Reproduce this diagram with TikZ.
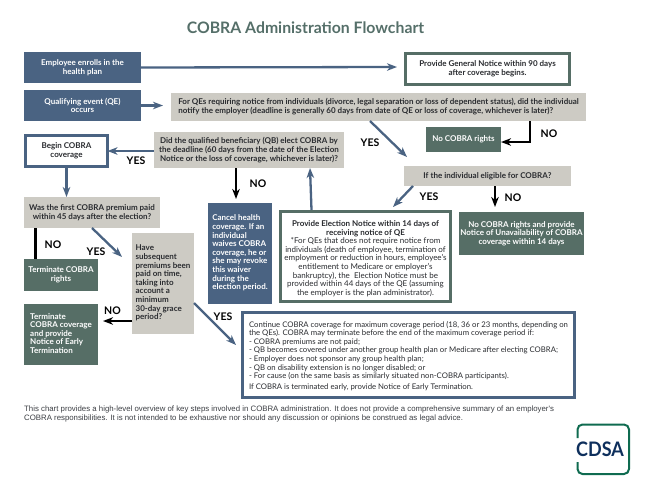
\documentclass[tikz,border=0pt]{standalone}
\usepackage{fontspec}
\usepackage{graphicx}
\setmainfont{Lato}
\newfontfamily\footfont{Liberation Sans}
\usetikzlibrary{arrows.meta,calc}
\definecolor{bluebox}{HTML}{4A6382}
\definecolor{greenbox}{HTML}{566E66}
\definecolor{greybox}{HTML}{CDCBC4}
\definecolor{titlecol}{HTML}{556F69}
\definecolor{inkcol}{HTML}{2A2C30}
\definecolor{thincol}{HTML}{3A3D42}
\definecolor{logogreen}{HTML}{0F6B50}
\definecolor{logonavy}{HTML}{0E2F5C}
\tikzset{
 sz/.style 2 args={minimum width=#1pt,minimum height=#2pt},
 base/.style={inner sep=0pt,outer sep=0pt,align=center,font=\bfseries\fontsize{8}{8.6}\selectfont},
 bluefill/.style={base,fill=bluebox,text=white},
 greenfill/.style={base,fill=greenbox,text=white},
 greyfill/.style={base,fill=greybox,text=inkcol},
 blueframe/.style={base,draw=bluebox,line width=3pt,fill=white,text=inkcol},
 greenframe/.style={base,draw=greenbox,line width=3pt,fill=white,text=inkcol},
 arrblue/.style={draw=bluebox,line width=2.3pt,-{Stealth[length=10pt,width=7.5pt,inset=3pt]}},
 arrblack/.style={draw=black,line width=1.8pt,-{Stealth[length=10pt,width=7.5pt,inset=3pt]}},
 plainblack/.style={draw=black,line width=2.2pt},
 lab/.style={inner sep=0pt,text=black,font=\fontsize{10.5}{11}\selectfont\bfseries},
}
\begin{document}
\begin{tikzpicture}[x=1pt,y=-1pt]
\useasboundingbox (0,0) rectangle (650,496);
\node[inner sep=0pt,text=titlecol,font=\bfseries\fontsize{15.8}{18}\selectfont] (title) at (305.5,27.5) {COBRA Administration Flowchart};

\node[bluefill,sz={117}{31}] (emp) at (82.5,67.5) {Employee enrolls in the\\health plan};
\node[bluefill,sz={117}{31}] (qe) at (82.5,105.5) {Qualifying event (QE)\\occurs};
\node[greenframe,sz={164}{31}] (gen) at (487.5,69) {Provide General Notice within 90 days\\after coverage begins.};
\node[greyfill,sz={415}{28}] (qq) at (378.5,107) {\begin{tabular}{@{}l@{}}For QEs requiring notice from individuals (divorce, legal separation or loss of dependent status), did the individual\\notify the employer (deadline is generally 60 days from date of QE or loss of coverage, whichever is later)?\end{tabular}};
\node[greenfill,sz={75}{25}] (nor) at (463.5,139.5) {No COBRA rights};
\node[greyfill,sz={167}{20.5}] (elig) at (487.5,175.75) {If the individual eligible for COBRA?};
\node[greyfill,sz={190}{36}] (qb) at (249,150) {Did the qualified beneficiary (QB) elect COBRA by\\the deadline (60 days from the date of the Election\\Notice or the loss of coverage, whichever is later)?};
\node[blueframe,sz={82}{31}] (begin) at (66.5,151) {Begin COBRA\\coverage};
\node[greyfill,sz={136}{31}] (first) at (92,212.5) {Was the first COBRA premium paid\\within 45 days after the election?};
\node[greenfill,sz={74}{32}] (termr) at (61,275) {Terminate COBRA\\rights};
\node[greyfill,sz={62}{101}] (subs) at (163,283.5) {\begin{tabular}{@{}l@{}}Have\\subsequent\\premiums been\\paid on time,\\taking into\\account a\\minimum\\30-day grace\\period?\end{tabular}};
\node[greenfill,sz={74}{61}] (termc) at (61,334.5) {\begin{tabular}{@{}l@{}}Terminate\\COBRA coverage\\and provide\\Notice of Early\\Termination\end{tabular}};
\node[bluefill,sz={64}{101}] (cancel) at (240,253.5) {\begin{tabular}{@{}l@{}}Cancel health\\coverage. If an\\individual\\waives COBRA\\coverage, he or\\she may revoke\\this waiver\\during the\\election period.\end{tabular}};
\node[greenframe,sz={170}{90}] (elec) at (365.5,256.5) {\rule{0pt}{10pt}Provide Election Notice within 14 days of\\receiving notice of QE\\[0pt]{\mdseries *For QEs that does not require notice from}\\{\mdseries individuals (death of employee, termination of}\\{\mdseries employment or reduction in hours, employee's}\\{\mdseries entitlement to Medicare or employer's}\\{\mdseries bankruptcy), the\ \ Election Notice must be}\\{\mdseries provided within 44 days of the QE (assuming}\\{\mdseries the employer is the plan administrator).}};
\node[greenfill,sz={125}{43}] (noun) at (521.5,233.5) {No COBRA rights and provide\\Notice of Unavailability of COBRA\\coverage within 14 days};
\node[blueframe,sz={332}{85},font=\bfseries\fontsize{7.75}{8.6}\selectfont] (cont) at (408.5,355) {\begin{tabular}{@{}l@{}}\mdseries\rule{0pt}{9.5pt}Continue COBRA coverage for maximum coverage period (18, 36 or 23 months, depending on\\\mdseries the QEs). COBRA may terminate before the end of the maximum coverage period if:\\\mdseries - COBRA premiums are not paid;\\\mdseries - QB becomes covered under another group health plan or Medicare after electing COBRA;\\\mdseries - Employer does not sponsor any group health plan;\\\mdseries - QB on disability extension is no longer disabled; or\\\mdseries - For cause (on the same basis as similarly situated non-COBRA participants).\\[2.6pt]\mdseries If COBRA is terminated early, provide Notice of Early Termination.\end{tabular}};

% free ends of connectors
\coordinate (e1) at (397,67);
\coordinate (e2) at (163,105.5);
\coordinate (e3) at (407,157);
\coordinate (e4) at (393,207);
\coordinate (e5) at (495,207);
\coordinate (e6) at (236,199);
\coordinate (e7) at (122,257);
\coordinate (e8) at (103,321);
\coordinate (e9) at (236,345);
\coordinate (bend) at (530,142);
\coordinate (up) at (310,0);
\coordinate (lft) at (0,151);

\draw[arrblue] (emp.east) -- (e1);
\draw[arrblue] (qe.east) -- (e2);
\draw[arrblue] ($(qq.south west)+(199,0)$) -- (e3);
\draw[arrblack] ($(qq.south west)+(359,0)$) -- (bend) -- (nor.east |- bend);
\draw[arrblue] ($(elig.south west)+(9,0)$) -- (e4);
\draw[arrblack] ($(elig.south west)+(91,0)$) -- (e5);
\draw[arrblue] ($(elec.north west)+(31,-1.5)$) -- (up |- qb.south);
\draw[arrblue] (qb.west |- lft) -- (begin.east |- lft);
\draw[arrblack] ($(qb.south west)+(82,0)$) -- (e6);
\draw[arrblue] (begin.south) -- (begin.south |- first.north);
\draw[plainblack] ($(first.south west)+(11.5,0)$) -- ($(termr.north west)+(11.5,0)$);
\draw[arrblue] ($(first.south west)+(68,0)$) -- (e7);
\draw[arrblack] ($(subs.south west)+(0,-13)$) -- (e8);
\draw[arrblue] ($(subs.south east)+(0,-31)$) -- (e9);

\node[lab] (y1) at (370,143) {YES};
\node[lab] (n1) at (549,134) {NO};
\node[lab] (y2) at (429,197) {YES};
\node[lab] (n2) at (513,198) {NO};
\node[lab] (y3) at (136,161) {YES};
\node[lab] (n3) at (258,183.5) {NO};
\node[lab] (n4) at (53,244.5) {NO};
\node[lab] (y4) at (96,252) {YES};
\node[lab] (n5) at (112.5,311) {NO};
\node[lab] (y5) at (223,316.5) {YES};

\node[anchor=north west,inner sep=0pt,align=left,text=thincol,font=\footfont\fontsize{7.82}{9.4}\selectfont] (foot) at (24,405.5) {This chart provides a high-level overview of key steps involved in COBRA administration. It does not provide a comprehensive summary of an employer's\\COBRA responsibilities. It is not intended to be exhaustive nor should any discussion or opinions be construed as legal advice.};

% logo
\draw[logogreen,line width=2pt,rounded corners=5pt] (577.5,438) -- (577.5,424.5) -- (629,424.5) -- (629,474) -- (577.5,474) -- (577.5,462);
\node[inner sep=0pt,text=logonavy,font=\bfseries\fontsize{20}{21}\selectfont] (logo) at (600,449.5) {\scalebox{0.9}[1]{CDSA}};
\end{tikzpicture}
\end{document}
